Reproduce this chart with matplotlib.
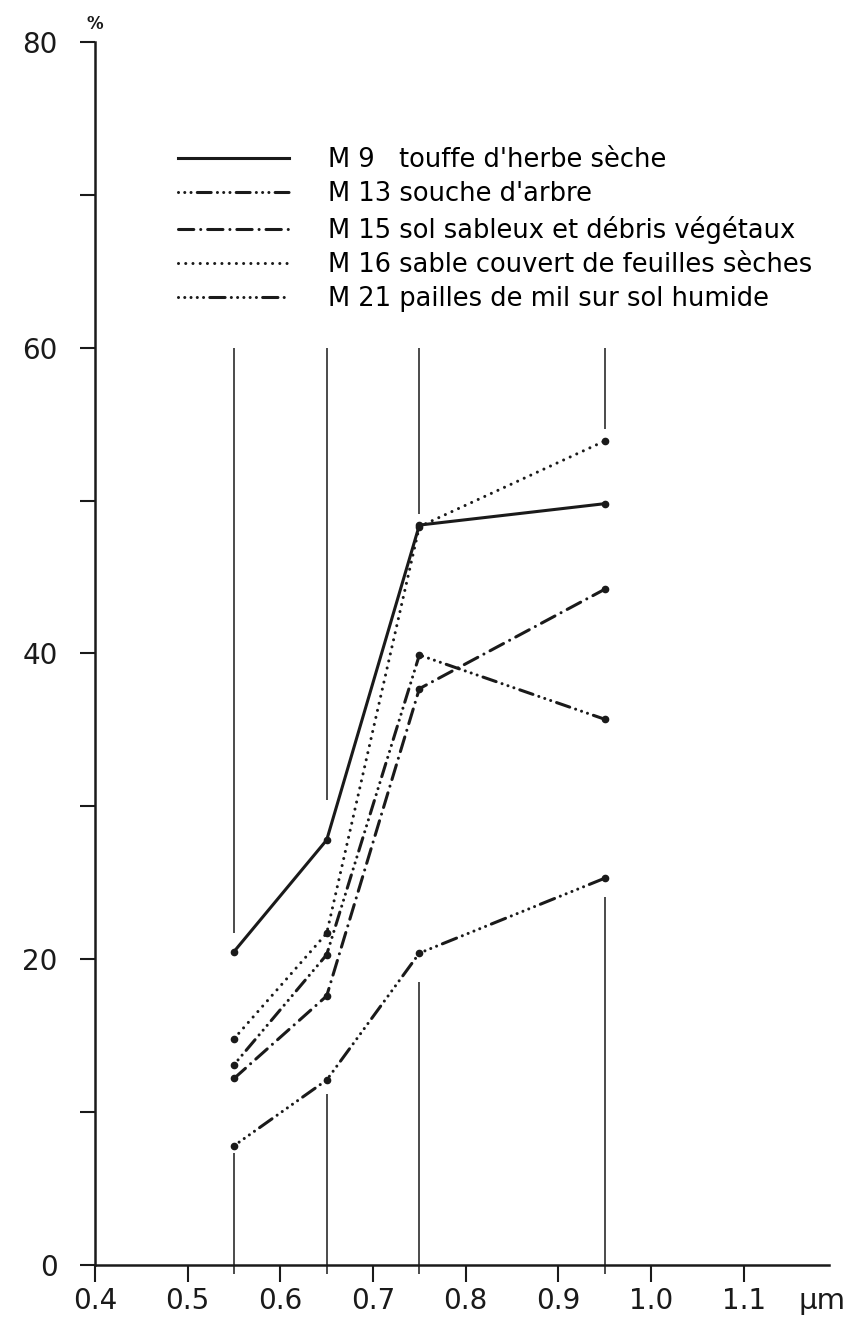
import matplotlib
matplotlib.use('Agg')
import matplotlib.pyplot as plt

plt.rcParams['font.family'] = ['DejaVu Sans']
plt.rcParams['lines.scale_dashes'] = False
plt.rcParams['lines.dash_capstyle'] = 'round'

# wavelengths of the measurement bands (µm)
wavelengths = [0.55, 0.65, 0.75, 0.95]

# reflectance (%) per sample
m9 = [20.5, 27.8, 48.4, 49.8]
m13 = [13.1, 20.3, 39.9, 35.7]
m15 = [12.2, 17.6, 37.7, 44.2]
m16 = [14.8, 21.7, 48.3, 53.9]
m21 = [7.8, 12.1, 20.4, 25.3]

labels = [
    "M 9   touffe d'herbe sèche",
    "M 13 souche d'arbre",
    "M 15 sol sableux et débris végétaux",
    "M 16 sable couvert de feuilles sèches",
    "M 21 pailles de mil sur sol humide",
]

# band guide lines: upper part from the value to 60 %, lower part from 0 up to the value
guide_upper_from = [21.7, 30.4, 49.1, 54.7]
guide_lower_to = [7.3, 11.2, 18.5, 24.1]

xticks = [0.4, 0.5, 0.6, 0.7, 0.8, 0.9, 1.0, 1.1]
xticklabels = ['0.4', '0.5', '0.6', '0.7', '0.8', '0.9', '1.0', '1.1']
yticks = [0, 10, 20, 30, 40, 50, 60, 70, 80]
yticklabels = ['0', '', '20', '', '40', '', '60', '', '80']

ink = '#1a1a1a'
styles = [
    '-',
    (0, (0.01, 4.5, 0.01, 4.5, 0.01, 4.5, 10, 4.5)),
    (0, (11, 5, 0.01, 5)),
    (0, (0.01, 5.2)),
    (0, (0.01, 4.5, 0.01, 4.5, 0.01, 4.5, 0.01, 4.5, 0.01, 4.5, 11, 4.5)),
]
series = [m9, m13, m15, m16, m21]

fig = plt.figure(figsize=(8.57, 13.24), dpi=100)
ax = fig.add_axes([95 / 857, 59 / 1324, 741.4 / 857, 1223 / 1324])

ax.vlines(wavelengths, guide_upper_from, 60, color=ink, lw=1.1)
ax.vlines(wavelengths, -0.6, guide_lower_to, color=ink, lw=1.1, clip_on=False)

for vals, ls, lab in zip(series, styles, labels):
    ax.plot(wavelengths, vals, linestyle=ls, color=ink, lw=2.2,
            marker='o', markersize=4.5, label=lab)

leg = ax.legend(loc='upper left', bbox_to_anchor=(0.112, 0.9145), frameon=False,
                fontsize=18.5, handlelength=4.3, handletextpad=1.55,
                labelspacing=0.33, borderpad=0, borderaxespad=0)
for h in leg.get_lines():
    h.set_marker('')

ax.set_xlim(0.4, 1.2)
ax.set_ylim(0, 80)
for s in ['top', 'right']:
    ax.spines[s].set_visible(False)
ax.spines['bottom'].set_bounds(0.4, 1.192)
for s in ['left', 'bottom']:
    ax.spines[s].set_linewidth(1.8)
    ax.spines[s].set_color(ink)

ax.set_xticks(xticks)
ax.set_xticklabels(xticklabels)
ax.set_yticks(yticks)
ax.set_yticklabels(yticklabels)
ax.tick_params(axis='y', direction='out', length=11, width=1.5, pad=16,
               labelsize=20, colors=ink)
ax.tick_params(axis='x', direction='out', length=12, width=1.5, pad=4,
               labelsize=20, colors=ink)

ax.text(0.4, 80.6, '%', fontsize=12, fontweight='bold', ha='center', va='bottom',
        color=ink, clip_on=False)
ax.text(1.185, -2.9, 'µm', fontsize=21, ha='center', va='baseline',
        color=ink, clip_on=False)

fig.savefig('out.png', dpi=100)
